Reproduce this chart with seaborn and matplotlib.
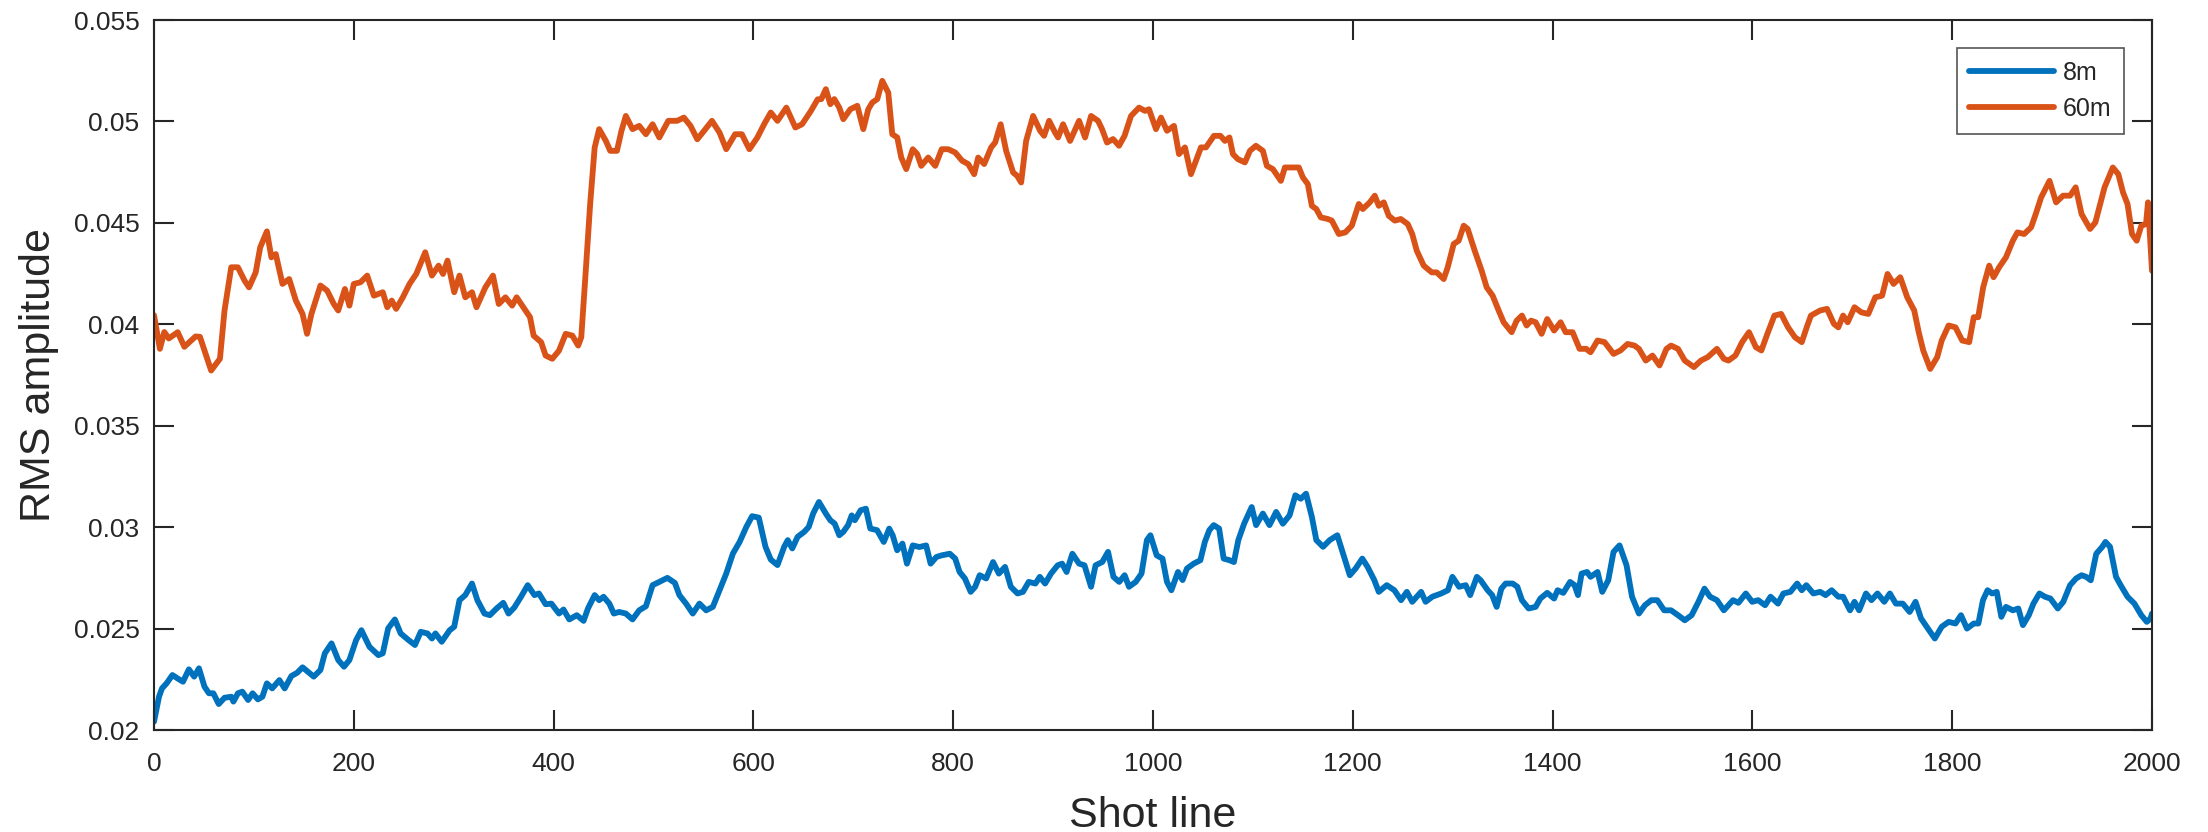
import matplotlib
matplotlib.use("Agg")
import matplotlib.pyplot as plt
import numpy as np
import pandas as pd
import seaborn as sns

# ---------------- data ----------------
series_names = ["8m", "60m"]
series_colors = ["#0072BD", "#D95319"]

x_8m = [
    0, 5, 8, 12.6, 18.4, 23.7, 29, 34.9, 40.2, 45,
    50.5, 55, 59.4, 64.8, 70.6, 77.3, 79.5, 84, 88.4, 94.2,
    98.7, 104, 108.5, 113, 118.3, 125.5, 130.8, 137.5, 143.3, 148.7,
    154, 159.9, 166.6, 171, 177.7, 184.4, 190.2, 195.6, 202.3, 207.6,
    215.7, 224.6, 229, 234.4, 241.1, 246.9, 254.9, 261.2, 267, 273.7,
    278.2, 281.7, 288, 296, 300.5, 305.8, 311.6, 318.3, 323.7, 330.8,
    336.2, 342.9, 349.6, 354.9, 360.7, 367.4, 374.1, 380.8, 385.3, 392,
    397.8, 405.4, 409.9, 415.7, 423.2, 430, 434.4, 441.1, 445.6, 450,
    455.8, 460.3, 465.6, 472.3, 479, 485.7, 492.4, 499.1, 505.8, 513.9,
    521.4, 525.9, 532.6, 539.3, 546, 552.7, 559.4, 566.1, 572.8, 579.5,
    586.2, 592.9, 598.7, 605.4, 612.1, 617.4, 624.1, 630.8, 634.4, 638.9,
    644.2, 650.9, 655.4, 659.8, 665.6,
    672.5, 677, 681.4, 686, 690, 694.8, 698.4, 701.5, 707.3, 712.6,
    717, 723.8, 730.5, 735.9, 739.4, 743.9, 749.2, 753.7, 759.5, 766.2,
    772.9, 777.4, 783.2, 788.5, 796.6, 802, 806.4, 811.7, 817.5, 822,
    826.5, 833, 839.9, 845.7, 851.9, 857.7, 864.4, 869.8, 875.6, 882.3,
    886.7, 892, 897.9, 904.6, 909, 913.5, 919.3, 926, 931.4, 938,
    942.5, 949.2, 955, 960.4, 966.2, 971.6, 976, 982.7, 988.5, 993.9,
    997.4, 1003.7, 1009.5, 1014, 1018.4, 1025, 1029.6, 1034, 1040.7, 1047.4,
    1051.9, 1056.4, 1060.8, 1066.2, 1070.7, 1076.5, 1081, 1085.4, 1091.2, 1098.8,
    1103.2, 1110, 1116.6, 1123.3, 1130, 1136.7, 1142.5, 1147.9, 1153.2, 1159,
    1163.5, 1170.2, 1176.9, 1184.5, 1190.3, 1197, 1202.8, 1209.5, 1214.8, 1221.5,
    1226, 1234, 1241.6, 1248.3, 1254.1, 1259.5, 1268.4, 1272.9, 1279.6, 1288.5,
    1295.2, 1299.7, 1306.4, 1313, 1317.5, 1324.2,
    1328, 1335, 1339.5, 1344, 1348.7, 1353, 1360, 1364.7, 1369.3, 1376,
    1383, 1387.7, 1394.6, 1401.5, 1405, 1410.7, 1417.5, 1422, 1425.4, 1429,
    1434.5, 1438, 1445, 1449.7, 1455.7, 1461, 1467, 1474, 1479.5, 1486.4,
    1492.4, 1498.8, 1504.8, 1511.7, 1518.6, 1525.5, 1532.3, 1539.2, 1546, 1552,
    1557.6, 1564.5, 1571.4, 1580.6, 1586, 1593.4, 1599.8, 1605.8, 1612.7, 1618.2,
    1625.6, 1631, 1638, 1644.8, 1649.4, 1654, 1661, 1667.8, 1673.3, 1679.3,
    1686, 1690.8, 1697.7, 1702.2, 1706.8, 1713.7, 1719.2, 1725.2, 1732, 1737.6,
    1743.6, 1750.5, 1757.4, 1763.3, 1768.8, 1775.7, 1782.6, 1789.5, 1796.4, 1803.3,
    1808.8, 1814.8, 1821.6, 1826.2, 1830.8, 1835.4, 1840, 1844.6, 1849.2, 1853.8,
    1860.7, 1866.2, 1870.8, 1876.7, 1881.3, 1887.3, 1892.8, 1898.3, 1905.7, 1911.2,
    1918, 1924, 1929.5, 1934.1, 1938.7, 1944.2, 1950.2, 1953.4, 1958, 1964,
    1968.6, 1975.5, 1982.4, 1989.3, 1994.8, 1998.5, 2000,
]
rms_8m = [
    0.02041, 0.02164, 0.02205, 0.02230, 0.02271, 0.02254, 0.02238, 0.02299, 0.02263, 0.02304,
    0.02214, 0.02181, 0.02181, 0.02128, 0.02159, 0.02164, 0.02140, 0.02181, 0.02189, 0.02148,
    0.02181, 0.02151, 0.02164, 0.02230, 0.02205, 0.02246, 0.02205, 0.02266, 0.02282, 0.02309,
    0.02287, 0.02263, 0.02296, 0.02378, 0.02427, 0.02345, 0.02312, 0.02345, 0.02443, 0.02492,
    0.02410, 0.02369, 0.02378, 0.02501, 0.02545, 0.02476, 0.02443, 0.02419, 0.02484, 0.02476,
    0.02451, 0.02476, 0.02435, 0.02492, 0.02509, 0.02640, 0.02665, 0.02722, 0.02640, 0.02574,
    0.02566, 0.02599, 0.02627, 0.02574, 0.02604, 0.02657, 0.02714, 0.02665, 0.02673, 0.02620,
    0.02623, 0.02574, 0.02594, 0.02545, 0.02566, 0.02538, 0.02599, 0.02665, 0.02640, 0.02657,
    0.02623, 0.02574, 0.02582, 0.02574, 0.02545, 0.02590, 0.02610, 0.02714, 0.02730, 0.02750,
    0.02725, 0.02665, 0.02623, 0.02574, 0.02623, 0.02590, 0.02607, 0.02689, 0.02771, 0.02870,
    0.02927, 0.03001, 0.03054, 0.03047, 0.02903, 0.02840, 0.02813, 0.02903, 0.02936, 0.02895,
    0.02952, 0.02977, 0.03001, 0.03067, 0.03124,
    0.03067, 0.03034, 0.03017, 0.02960, 0.02977, 0.03010, 0.03058, 0.03034, 0.03083, 0.03091,
    0.02993, 0.02985, 0.02927, 0.02993, 0.02960, 0.02886, 0.02919, 0.02820, 0.02910, 0.02902,
    0.02910, 0.02820, 0.02853, 0.02861, 0.02869, 0.02845, 0.02779, 0.02747, 0.02681, 0.02706,
    0.02763, 0.02747, 0.02828, 0.02771, 0.02804, 0.02706, 0.02673, 0.02681, 0.02730, 0.02722,
    0.02755, 0.02722, 0.02771, 0.02812, 0.02820, 0.02779, 0.02869, 0.02820, 0.02812, 0.02706,
    0.02812, 0.02828, 0.02878, 0.02755, 0.02730, 0.02763, 0.02706, 0.02730, 0.02771, 0.02936,
    0.02960, 0.02861, 0.02845, 0.02730, 0.02689, 0.02779, 0.02739, 0.02796, 0.02820, 0.02837,
    0.02927, 0.02985, 0.03010, 0.02993, 0.02845, 0.02837, 0.02828, 0.02936, 0.03017, 0.03099,
    0.03010, 0.03067, 0.03010, 0.03075, 0.03017, 0.03058, 0.03157, 0.03140, 0.03165, 0.03051,
    0.02936, 0.02903, 0.02936, 0.02960, 0.02869, 0.02763, 0.02796, 0.02845, 0.02804, 0.02739,
    0.02681, 0.02714, 0.02689, 0.02640, 0.02681, 0.02632, 0.02681, 0.02632, 0.02657, 0.02673,
    0.02689, 0.02755, 0.02706, 0.02714, 0.02665, 0.02755,
    0.02738, 0.02689, 0.02665, 0.02607, 0.02697, 0.02722, 0.02722, 0.02706, 0.02640, 0.02599,
    0.02607, 0.02648, 0.02676, 0.02648, 0.02689, 0.02676, 0.02730, 0.02714, 0.02665, 0.02771,
    0.02779, 0.02755, 0.02779, 0.02681, 0.02738, 0.02878, 0.02910, 0.02812, 0.02657, 0.02574,
    0.02615, 0.02640, 0.02640, 0.02590, 0.02590, 0.02566, 0.02541, 0.02566, 0.02632, 0.02697,
    0.02657, 0.02640, 0.02590, 0.02640, 0.02627, 0.02673, 0.02632, 0.02640, 0.02615, 0.02657,
    0.02623, 0.02673, 0.02681, 0.02722, 0.02689, 0.02714, 0.02673, 0.02681, 0.02665, 0.02689,
    0.02657, 0.02657, 0.02590, 0.02632, 0.02590, 0.02673, 0.02640, 0.02673, 0.02632, 0.02673,
    0.02623, 0.02623, 0.02582, 0.02632, 0.02550, 0.02500, 0.02451, 0.02509, 0.02533, 0.02525,
    0.02566, 0.02500, 0.02525, 0.02525, 0.02640, 0.02689, 0.02673, 0.02681, 0.02558, 0.02607,
    0.02590, 0.02599, 0.02517, 0.02566, 0.02623, 0.02673, 0.02657, 0.02648, 0.02599, 0.02632,
    0.02714, 0.02747, 0.02763, 0.02755, 0.02738, 0.02869, 0.02903, 0.02927, 0.02903, 0.02755,
    0.02714, 0.02657, 0.02623, 0.02566, 0.02533, 0.02550, 0.02574,
]

x_60m = [
    0, 5.9, 10.3, 14.8, 23.7, 30.4, 41.6, 46, 57.2, 66,
    70.6, 77.3, 84, 90.7, 95.1, 101.8, 106.3, 113, 117.5, 121.9,
    128.6, 135.3, 142, 148.7, 153.2, 157.6, 166.6, 173.3, 180, 184.4,
    191.1, 195.6, 200, 206.7, 213.4, 220.1, 229, 233.5, 238, 242.4,
    249.1, 255.8, 262.5, 271.5, 278.2, 284.9, 289.3, 293.8, 300.5, 305.8,
    311.6, 318.3, 322.8, 331.7, 339.3, 345.1, 351.8, 358.5, 363, 369.7,
    376.4, 380, 387.5, 392, 398.7, 405.4, 412.1, 418.8, 424.6, 427.7,
    432.2, 436.6, 441.1, 445.6, 452.3, 456.7, 463.4, 467.9, 472.3, 479,
    485.7, 492.4, 499.1, 505.8, 514.8, 523.7, 530.4, 537.1, 543.8, 550.5,
    558.5, 566.1, 572.8, 581.7, 588.4, 596, 604, 610.7, 617.4, 624.1,
    633, 642, 648.7, 657.6, 664.3,
    668, 672.5, 677, 681, 686, 690, 697, 704, 710, 715,
    719, 724, 729, 735, 739, 744, 748, 753, 759.5, 764,
    768, 775, 782, 788.5, 795, 802, 809, 815, 821, 825,
    831, 838, 842, 847.5, 853, 860, 864, 868, 873, 880,
    887, 891, 896, 902, 905, 910, 917, 926, 932, 938,
    945, 949, 954, 960, 966, 971.5, 978, 986, 992, 996,
    1003, 1008, 1014, 1021, 1026, 1032, 1038, 1043, 1048, 1053,
    1061, 1067.5, 1072, 1076.5, 1080, 1085, 1092, 1097, 1103, 1110,
    1114, 1120, 1128, 1132, 1139, 1146, 1150, 1155, 1159, 1163.5,
    1168, 1175, 1179, 1186, 1192.5, 1199, 1206, 1210, 1217, 1222,
    1226, 1231, 1236, 1242, 1248, 1255, 1259.5, 1264, 1271, 1279,
    1284, 1291, 1295, 1301, 1306, 1311, 1315, 1322, 1329, 1334,
    1340, 1346, 1351, 1359, 1364,
    1369.3, 1374, 1378.5, 1383, 1389, 1394.6, 1401.5, 1408, 1413, 1420,
    1427, 1433.6, 1438, 1445, 1452, 1461, 1468, 1475, 1482, 1486.4,
    1493.3, 1500, 1507, 1514, 1518.6, 1525.5, 1532.3, 1541.5, 1548.4, 1555.3,
    1564.5, 1571.4, 1576, 1583, 1589.7, 1596.6, 1603.5, 1609, 1615, 1622,
    1628.8, 1635.7, 1642.6, 1649.4, 1655, 1658.6, 1667.8, 1674.7, 1681.6, 1686,
    1690.8, 1695.4, 1702.2, 1709, 1716, 1723, 1729.8, 1735.3, 1741.3, 1748,
    1755, 1762, 1766.5, 1771, 1778, 1785, 1789.5, 1796.4, 1803.3, 1810,
    1817, 1821.6, 1826, 1831, 1837, 1841.4, 1847, 1853.8, 1860.7, 1865.3,
    1872, 1879, 1883.6, 1889, 1897.4, 1904, 1911, 1918, 1923.6, 1929.5,
    1938, 1943.3, 1952.5, 1960.8, 1966.3, 1971, 1975.5, 1980, 1984.7, 1989.3,
    1994, 1996, 2000,
]
rms_60m = [
    0.04045, 0.03879, 0.03962, 0.03930, 0.03961, 0.03889, 0.03940, 0.03938, 0.03772, 0.03830,
    0.04068, 0.04281, 0.04281, 0.04215, 0.04182, 0.04256, 0.04379, 0.04458, 0.04330, 0.04346,
    0.04199, 0.04223, 0.04117, 0.04051, 0.03953, 0.04051, 0.04191, 0.04166, 0.04100, 0.04068,
    0.04174, 0.04092, 0.04199, 0.04207, 0.04240, 0.04141, 0.04158, 0.04084, 0.04117, 0.04076,
    0.04133, 0.04199, 0.04248, 0.04355, 0.04240, 0.04289, 0.04248, 0.04314, 0.04158, 0.04240,
    0.04133, 0.04158, 0.04084, 0.04182, 0.04240, 0.04100, 0.04133, 0.04092, 0.04133, 0.04084,
    0.04035, 0.03944, 0.03912, 0.03846, 0.03830, 0.03870, 0.03953, 0.03944, 0.03895, 0.03936,
    0.04264, 0.04593, 0.04871, 0.04962, 0.04904, 0.04855, 0.04855, 0.04953, 0.05027, 0.04962,
    0.04978, 0.04937, 0.04986, 0.04921, 0.05003, 0.05003, 0.05019, 0.04978, 0.04912, 0.04953,
    0.05003, 0.04945, 0.04863, 0.04937, 0.04937, 0.04863, 0.04921, 0.04986, 0.05044, 0.05003,
    0.05068, 0.04970, 0.04986, 0.05052, 0.05109,
    0.05110, 0.05159, 0.05085, 0.05110, 0.05068, 0.05011, 0.05060, 0.05077, 0.04962, 0.05060,
    0.05093, 0.05110, 0.05200, 0.05142, 0.04937, 0.04921, 0.04822, 0.04765, 0.04863, 0.04839,
    0.04781, 0.04822, 0.04781, 0.04863, 0.04863, 0.04847, 0.04806, 0.04790, 0.04740, 0.04822,
    0.04790, 0.04872, 0.04896, 0.04986, 0.04855, 0.04748, 0.04732, 0.04699, 0.04904, 0.05027,
    0.04954, 0.04929, 0.05003, 0.04945, 0.04921, 0.04986, 0.04904, 0.05003, 0.04921, 0.05027,
    0.05003, 0.04962, 0.04896, 0.04913, 0.04880, 0.04929, 0.05027, 0.05068, 0.05052, 0.05060,
    0.04962, 0.05019, 0.04954, 0.04978, 0.04839, 0.04872, 0.04740, 0.04806, 0.04872, 0.04872,
    0.04929, 0.04929, 0.04904, 0.04921, 0.04839, 0.04814, 0.04798, 0.04855, 0.04880, 0.04855,
    0.04781, 0.04765, 0.04707, 0.04773, 0.04773, 0.04773, 0.04724, 0.04691, 0.04584, 0.04568,
    0.04527, 0.04519, 0.04511, 0.04445, 0.04453, 0.04486, 0.04593, 0.04568, 0.04601, 0.04634,
    0.04584, 0.04601, 0.04535, 0.04511, 0.04519, 0.04494, 0.04445, 0.04363, 0.04289, 0.04256,
    0.04256, 0.04223, 0.04281, 0.04396, 0.04412, 0.04486, 0.04470, 0.04363, 0.04264, 0.04182,
    0.04141, 0.04068, 0.04010, 0.03961, 0.04018,
    0.04043, 0.03994, 0.04018, 0.04010, 0.03953, 0.04026, 0.03969, 0.04010, 0.03961, 0.03961,
    0.03879, 0.03879, 0.03862, 0.03920, 0.03912, 0.03854, 0.03871, 0.03903, 0.03895, 0.03879,
    0.03821, 0.03846, 0.03797, 0.03879, 0.03895, 0.03879, 0.03821, 0.03789, 0.03821, 0.03838,
    0.03879, 0.03830, 0.03821, 0.03846, 0.03912, 0.03961, 0.03887, 0.03871, 0.03953, 0.04043,
    0.04051, 0.03985, 0.03936, 0.03912, 0.03994, 0.04043, 0.04068, 0.04076, 0.04002, 0.03985,
    0.04043, 0.04010, 0.04084, 0.04059, 0.04051, 0.04133, 0.04141, 0.04248, 0.04199, 0.04232,
    0.04133, 0.04068, 0.03961, 0.03871, 0.03780, 0.03838, 0.03920, 0.03994, 0.03985, 0.03920,
    0.03912, 0.04035, 0.04035, 0.04182, 0.04289, 0.04232, 0.04281, 0.04330, 0.04412, 0.04453,
    0.04445, 0.04478, 0.04543, 0.04625, 0.04707, 0.04601, 0.04634, 0.04634, 0.04675, 0.04543,
    0.04470, 0.04502, 0.04675, 0.04773, 0.04740, 0.04650, 0.04593, 0.04445, 0.04412, 0.04486,
    0.04494, 0.04601, 0.04264,
]

x_ticks = [0, 200, 400, 600, 800, 1000, 1200, 1400, 1600, 1800, 2000]
y_ticks = [0.02, 0.025, 0.03, 0.035, 0.04, 0.045, 0.05, 0.055]
y_tick_labels = ["0.02", "0.025", "0.03", "0.035", "0.04", "0.045", "0.05", "0.055"]
x_label = "Shot line"
y_label = "RMS amplitude"

# ---------------- build table ----------------
n8 = min(len(x_8m), len(rms_8m))
n60 = min(len(x_60m), len(rms_60m))
df = pd.concat([
    pd.DataFrame({"shot": x_8m[:n8], "rms": rms_8m[:n8], "series": series_names[0]}),
    pd.DataFrame({"shot": x_60m[:n60], "rms": rms_60m[:n60], "series": series_names[1]}),
], ignore_index=True)

# ---------------- style ----------------
sns.set_theme(style="white")
plt.rcParams["font.family"] = ["Liberation Sans", "DejaVu Sans"]
INK = "#262626"

W, H = 2208, 832
fig = plt.figure(figsize=(W / 100, H / 100), dpi=100)
ax_l, ax_r, ax_t, ax_b = 154, 2152, 20, 730
ax = fig.add_axes([ax_l / W, (H - ax_b) / H, (ax_r - ax_l) / W, (ax_b - ax_t) / H])

sns.lineplot(
    data=df, x="shot", y="rms", hue="series", hue_order=series_names,
    palette=dict(zip(series_names, series_colors)),
    estimator=None, sort=False, linewidth=4.2, ax=ax,
)

ax.set_xlim(0, 2000)
ax.set_ylim(0.02, 0.055)
ax.set_xticks(x_ticks)
ax.set_xticklabels([str(t) for t in x_ticks])
ax.set_yticks(y_ticks)
ax.set_yticklabels(y_tick_labels)

for s in ax.spines.values():
    s.set_visible(True)
    s.set_color(INK)
    s.set_linewidth(1.5)

ax.tick_params(axis="both", which="major", direction="in", length=14.4, width=1.5,
               color=INK, labelcolor=INK, labelsize=19,
               bottom=True, top=True, left=True, right=True,
               labelbottom=True, labelleft=True, labeltop=False, labelright=False)
ax.tick_params(axis="x", pad=16)
ax.tick_params(axis="y", pad=10.5)

ax.set_xlabel(x_label, fontsize=31, color=INK)
ax.set_ylabel(y_label, fontsize=31, color=INK)
ax.xaxis.label.set_verticalalignment("baseline")
ax.xaxis.set_label_coords(0.5, (ax_b - 827) / (ax_b - ax_t))
ax.yaxis.label.set_verticalalignment("baseline")
ax.yaxis.set_label_coords((50 - ax_l) / (ax_r - ax_l), 0.5)

handles, labels = ax.get_legend_handles_labels()
leg = ax.legend(handles, labels, loc="upper right",
                bbox_to_anchor=(1 - 28 / (ax_r - ax_l), 1 - 28 / (ax_b - ax_t)),
                borderaxespad=0, fontsize=18, frameon=True, fancybox=False,
                framealpha=1, edgecolor="#555555", handlelength=3.4,
                handletextpad=0.35, borderpad=0.5, labelspacing=0.5)
leg.get_frame().set_linewidth(1.2)
for line in leg.get_lines():
    line.set_linewidth(4.2)

fig.savefig("out.png", dpi=100, facecolor="white")
